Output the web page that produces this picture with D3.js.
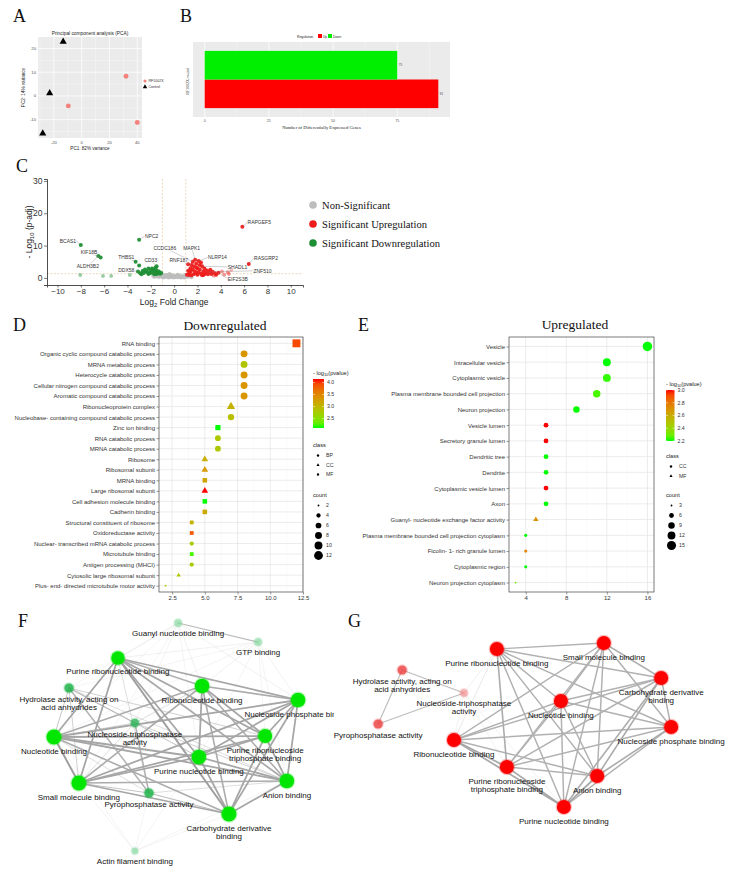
<!DOCTYPE html>
<html>
<head>
<meta charset="utf-8">
<script src="https://cdn.jsdelivr.net/npm/d3@7"></script>
<style>
  body { margin: 0; background: #fff; }
  svg { display: block; }
</style>
</head>
<body>
<svg id="fig" width="734" height="879"></svg>
<script>
/* ---------- A : PCA ---------- */
var pcaGroup = ["RF1002X", "RF1002X", "RF1002X", "Control", "Control", "Control"];
var pcaPC1 = [31.9, -9.6, 40.0, -13.3, -23.0, -28.0];
var pcaPC2 = [8.3, -4.2, -11.2, 22.9, 1.2, -15.8];
var pcaXTicks = [-20, 0, 20, 40];
var pcaYTicks = [-10, 0, 10, 20];

/* ---------- B : DEG counts ---------- */
var degRegulation = ["Up", "Down"];
var degCounts = [91, 75];
var degXTicks = [0, 25, 50, 75];

/* ---------- C : volcano ---------- */
var volNonSig = [[-1.6,0.9],[-1.5,0.5],[-1.4,1.1],[-1.3,0.3],[-1.2,0.7],[-1.1,1.2],[-1.0,0.2],[-0.9,0.6],
  [-0.8,0.9],[-0.7,0.3],[-0.6,0.5],[-0.5,0.1],[-0.4,0.4],[-0.3,0.7],[-0.2,0.2],[-0.1,0.5],[0.0,0.1],
  [0.1,0.3],[0.2,0.6],[0.3,0.2],[0.4,0.4],[0.5,0.8],[0.6,0.3],[0.7,0.5],[0.8,0.2],[0.9,0.9],[1.0,0.4],
  [1.1,0.6],[1.2,0.3],[1.3,0.8],[-0.9,0.1],[-0.6,0.9],[0.3,1.0],[-1.4,0.4],[0.6,0.1],[-0.2,0.9],
  [0.9,0.1],[1.4,0.5],[-1.8,0.6],[-0.4,1.2],[-1.1,0.5],[-0.7,0.8],[0.1,0.7],[0.5,0.2],[1.1,1.0],
  [-0.05,0.3],[0.25,0.8],[-0.35,0.2],[-1.7,0.3],[1.5,0.2]];
var volUp = [[5.85,15.8],[6.4,4.3],[1.1,1.0],[1.2,2.2],[1.3,1.5],[1.4,3.0],[1.5,0.8],[1.5,4.0],[1.6,2.5],
  [1.7,1.2],[1.7,3.5],[1.8,5.6],[1.8,2.0],[1.9,4.4],[2.0,1.0],[2.0,3.0],[2.1,5.2],[2.1,1.8],[2.2,2.6],
  [2.3,4.8],[2.3,1.3],[2.4,3.6],[2.5,2.0],[2.5,0.9],[2.6,2.9],[2.7,1.5],[2.8,2.3],[2.9,1.1],[3.0,1.8],
  [3.1,2.5],[3.2,1.2],[3.3,1.9],[3.5,1.4],[3.6,1.0],[3.8,1.6],[1.2,4.2],[1.6,5.0],[1.9,3.2],[2.2,4.0],
  [2.6,1.1],[1.3,0.9],[1.9,1.4],[2.4,0.8],[1.4,2.0]];
var volUpFaint = [[4.3,1.0],[4.6,1.8],[4.9,2.6],[4.1,2.0],[3.4,0.7],[4.7,1.2]];
var volDown = [[-8.0,10.2],[-6.3,6.3],[-6.5,6.8],[-3.3,5.0],[-3.0,3.8],[-3.0,11.8],[-1.5,3.6],[-1.6,3.2],
  [-3.1,2.0],[-2.6,1.5],[-2.4,2.0],[-2.2,1.2],[-2.0,2.3],[-1.9,1.6],[-1.8,2.6],[-1.7,1.1],[-1.6,1.9],
  [-1.5,2.4],[-1.4,1.4],[-1.3,2.0],[-1.2,1.3],[-2.8,1.1],[-2.5,2.6],[-2.3,1.8],[-2.1,1.4],[-1.9,2.9],
  [-1.7,2.2],[-1.5,1.2],[-1.3,1.7],[-1.1,1.5],[-2.7,2.1],[-2.9,1.4],[-2.2,2.9],[-1.6,1.5]];
var volDownFaint = [[-8.05,0.9],[-6.1,0.6],[-5.4,0.6],[-3.8,0.9]];
var volLabelGene = ["RAPGEF5","BCAS1","KIF18B","ALDH3B2","THBS1","NPC2","CD33","DDX58",
  "CCDC186","MAPK1","RNF187","NLRP14","SHADL1","ZNF510","RASGRP2","EIF2S3B"];
var volLabelPoint = [[5.85,15.8],[-8.0,10.2],[-6.3,6.3],[-6.5,6.8],[-3.3,5.0],[-3.0,11.8],[-1.5,3.6],[-3.1,2.0],
  [1.6,5.0],[1.8,5.6],[1.5,4.0],[2.1,5.2],[2.4,3.6],[3.0,1.8],[6.4,4.3],[3.8,1.6]];
var volLabelAt = [[6.3,17.3],[-8.4,11.4],[-7.3,7.8],[-7.4,3.6],[-4.1,6.3],[-2.5,13.0],[-2.0,5.5],[-4.1,2.4],
  [-0.8,9.3],[1.5,9.3],[0.4,5.5],[2.9,6.4],[4.6,3.4],[6.8,2.2],[6.85,6.2],[4.6,-0.3]];
var volLabelAnchor = ["start","end","middle","middle","middle","start","middle","middle",
  "middle","middle","middle","start","start","start","start","start"];
var volXTicks = [-10, -8, -6, -4, -2, 0, 2, 4, 6, 8, 10];
var volYTicks = [0, 10, 20, 30];
var volLegend = ["Non-Significant", "Significant Upregulation", "Significant Downregulation"];

/* ---------- D : downregulated enrichment ---------- */
var dnTerms = ["RNA binding", "Organic cyclic compound catabolic process", "MRNA metabolic process",
  "Heterocycle catabolic process", "Cellular nitrogen compound catabolic process",
  "Aromatic compound catabolic process", "Ribonucleoprotein complex",
  "Nucleobase- containing compound catabolic process", "Zinc ion binding", "RNA catabolic process",
  "MRNA catabolic process", "Ribosome", "Ribosomal subunit", "MRNA binding", "Large ribosomal subunit",
  "Cell adhesion molecule binding", "Cadherin binding", "Structural constituent of ribosome",
  "Oxidoreductase activity", "Nuclear- transcribed mRNA catabolic process", "Microtubule binding",
  "Antigen processing (MHCI)", "Cytosolic large ribosomal subunit",
  "Plus- end- directed microtubule motor activity"];
var dnCount = [12, 8, 8, 8, 8, 8, 7, 7, 6, 6, 6, 5, 5, 5, 5, 5, 5, 4, 4, 4, 4, 4, 3, 2];
var dnClass = ["MF","BP","BP","BP","BP","BP","CC","BP","MF","BP","BP","CC","CC","MF","CC","MF","MF",
  "MF","MF","BP","MF","BP","CC","MF"];
var dnLogP = [3.95, 3.35, 2.85, 3.35, 3.35, 3.35, 3.05, 2.9, 2.1, 2.8, 2.8, 3.1, 3.3, 3.2, 4.15, 2.1,
  3.15, 3.05, 3.85, 2.75, 2.2, 2.8, 2.85, 2.75];
var dnXTicks = [2.5, 5, 7.5, 10, 12.5];
var dnColorTicks = [2.5, 3.0, 3.5, 4.0];
var dnClasses = ["BP", "CC", "MF"];
var dnCountBreaks = [2, 4, 6, 8, 10, 12];

/* ---------- E : upregulated enrichment ---------- */
var upTerms = ["Vesicle", "Intracellular vesicle", "Cytoplasmic vesicle",
  "Plasma membrane bounded cell projection", "Neuron projection", "Vesicle lumen",
  "Secretory granule lumen", "Dendritic tree", "Dendrite", "Cytoplasmic vesicle lumen", "Axon",
  "Guanyl- nucleotide exchange factor activity", "Plasma membrane bounded cell projection cytoplasm",
  "Ficolin- 1- rich granule lumen", "Cytoplasmic region", "Neuron projection cytoplasm"];
var upCount = [16, 12, 12, 11, 9, 6, 6, 6, 6, 6, 6, 5, 4, 4, 4, 3];
var upClass = ["CC","CC","CC","CC","CC","CC","CC","CC","CC","CC","CC","MF","CC","CC","CC","CC"];
var upLogP = [2.2, 2.2, 2.22, 2.24, 2.2, 3.0, 3.0, 2.2, 2.2, 3.0, 2.2, 2.7, 2.2, 2.75, 2.2, 2.28];
var upXTicks = [4, 8, 12, 16];
var upColorTicks = [2.2, 2.4, 2.6, 2.8, 3.0];
var upClasses = ["CC", "MF"];
var upCountBreaks = [3, 6, 9, 12, 15];

/* ---------- F : network of downregulated MF terms ---------- */
var fIds = ["GNB","GTP","PRB","HYD","RB","NPB","NTP","NB","PRTB","PNB","SMB","PYR","AB","CDB","ACT"];
var fLabels = ["Guanyl nucleotide binding", "GTP binding", "Purine ribonucleotide binding",
  "Hydrolase activity, acting on\nacid anhydrides", "Ribonucleotide binding", "Nucleoside phosphate binding",
  "Nucleoside-triphosphatase\nactivity", "Nucleotide binding", "Purine ribonucleoside\ntriphosphate binding",
  "Purine nucleotide binding", "Small molecule binding", "Pyrophosphatase activity", "Anion binding",
  "Carbohydrate derivative\nbinding", "Actin filament binding"];
var fGenes = [4, 4, 13, 6, 15, 15, 5, 16, 14, 15, 16, 6, 15, 16, 3];
var fSig = [0.1, 0.1, 1, 0.55, 1, 1, 0.45, 1, 1, 1, 1, 0.55, 1, 1, 0.1];
// layout (0-100 units inside the panel box)
var fLayoutX = [49.4, 74.4, 30.6, 15.3, 56.9, 86.9, 35.9, 10.6, 76.6, 55.9, 18.4, 40.3, 83.4, 65.3, 35.9];
var fLayoutY = [1.2, 8.8, 15.2, 27.2, 26.4, 32, 41.2, 46.8, 46.4, 54.8, 65.2, 69.2, 64.4, 77.6, 92.4];
var fEdges = [
  ["PRB","RB",2],["PRB","NPB",2.5],["PRB","NB",2.5],["PRB","PRTB",2.5],["PRB","PNB",2.5],["PRB","SMB",2.5],
  ["PRB","AB",2.4],["PRB","CDB",2.8],["RB","NPB",2.2],["RB","NB",2.2],["RB","PRTB",2.5],["RB","PNB",2.5],
  ["RB","SMB",2.2],["RB","AB",2.2],["RB","CDB",2.2],["NPB","NB",2.5],["NPB","PRTB",2.5],["NPB","PNB",2.5],
  ["NPB","SMB",2.5],["NPB","AB",2.5],["NPB","CDB",2.5],["NB","PRTB",2.5],["NB","PNB",2.5],["NB","SMB",2.8],
  ["NB","AB",2.5],["NB","CDB",2.2],["PRTB","PNB",2.5],["PRTB","SMB",2.5],["PRTB","AB",2.5],["PRTB","CDB",2.5],
  ["PNB","SMB",2.5],["PNB","AB",2.5],["PNB","CDB",2.5],["SMB","AB",2.2],["SMB","CDB",2.5],["AB","CDB",2.5],
  ["HYD","PYR",2],["HYD","NTP",1.5],["NTP","PYR",2],["HYD","NB",1.2],["HYD","SMB",1],["HYD","PNB",1],
  ["HYD","PRTB",1],["HYD","AB",0.8],["NTP","NB",1],["NTP","SMB",0.8],["NTP","PNB",0.8],["NTP","AB",1],
  ["NTP","RB",0.8],["PYR","SMB",1.2],["PYR","CDB",1.5],["PYR","NB",0.8],["PYR","AB",0.8],["PYR","PRB",0.8],
  ["GNB","GTP",1.6],["GNB","PRB",0.4],["GNB","RB",0.4],["GNB","NPB",0.4],["GNB","NB",0.3],["GNB","PNB",0.3],
  ["GNB","SMB",0.3],["GNB","NTP",0.3],["GNB","HYD",0.3],["GTP","PRB",0.4],["GTP","RB",0.4],["GTP","NPB",0.4],
  ["GTP","PRTB",0.3],["GTP","PNB",0.3],["GTP","AB",0.3],["GTP","NB",0.3],["GTP","HYD",0.3],
  ["ACT","SMB",0.3],["ACT","NB",0.3],["ACT","PNB",0.3],["ACT","CDB",0.3],["ACT","PYR",0.3],["ACT","AB",0.3]];

/* ---------- G : network of upregulated MF terms ---------- */
var gIds = ["PRB","SMB","HYD","NTP","PYR","CDB","NB","NPB","RB","PRTB","AB","PNB"];
var gLabels = ["Purine ribonucleotide binding", "Small molecule binding",
  "Hydrolase activity, acting on\nacid anhydrides", "Nucleoside-triphosphatase\nactivity",
  "Pyrophosphatase activity", "Carbohydrate derivative\nbinding", "Nucleotide binding",
  "Nucleoside phosphate binding", "Ribonucleotide binding", "Purine ribonucleoside\ntriphosphate binding",
  "Anion binding", "Purine nucleotide binding"];
var gGenes = [14, 14, 6, 4, 6, 14, 14, 14, 14, 14, 14, 14];
var gSig = [1, 1, 0.55, 0.15, 0.55, 1, 1, 1, 1, 1, 1, 1];
var gLayoutX = [39.7, 68.6, 14.1, 30.8, 7.6, 84.1, 57.0, 86.8, 28.1, 42.4, 66.8, 57.8];
var gLayoutY = [11.6, 9.2, 20, 29.2, 41.6, 23.2, 32.4, 42.8, 48, 58.8, 62.4, 74.8];
var gEdges = [
  ["PRB","SMB",2],["PRB","CDB",2],["PRB","NB",2],["PRB","NPB",2],["PRB","RB",0.6],["PRB","PRTB",2.2],
  ["PRB","AB",2],["PRB","PNB",2],["SMB","CDB",2],["SMB","NB",2],["SMB","RB",2],["SMB","AB",2],
  ["SMB","PNB",2],["SMB","NPB",2],["SMB","PRTB",1.8],["CDB","NB",2],["CDB","NPB",2],["CDB","RB",2],
  ["CDB","PRTB",2],["CDB","AB",2.2],["CDB","PNB",2.2],["NB","NPB",2],["NB","RB",2],["NB","AB",2],
  ["NB","PNB",2],["NB","PRTB",2],["NPB","RB",2],["NPB","PRTB",2],["NPB","AB",2.2],["NPB","PNB",2],
  ["RB","PRTB",2.4],["RB","AB",2],["RB","PNB",2.4],["PRTB","AB",2],["PRTB","PNB",2.4],["AB","PNB",2.4],
  ["HYD","NTP",1.5],["HYD","PYR",1.5],["PYR","NTP",1.5],["NTP","RB",0.4],["NTP","PRTB",0.4],
  ["NTP","PNB",0.4],["NTP","PRB",0.4]];

/* ---------- setup ---------- */
var SANS = "'Liberation Sans', Arial, sans-serif";
var SERIF = "'Liberation Serif', 'Times New Roman', serif";
var svg = d3.select("#fig");
svg.append("rect").attr("width", 734).attr("height", 879).attr("fill", "#fff");

function expand(ext, f) {
  var d = (ext[1] - ext[0]) * f;
  return [ext[0] - d, ext[1] + d];
}
function minorTicks(ticks, domain) {
  var step = ticks[1] - ticks[0], out = [];
  for (var v = ticks[0] - step / 2; v <= domain[1]; v += step) if (v >= domain[0]) out.push(v);
  return out;
}
function letter(txt, x, y) {
  svg.append("text").attr("x", x).attr("y", y).text(txt)
    .attr("font-family", SERIF).attr("font-size", 18).attr("fill", "#111");
}

/* ---------- A ---------- */
function drawPCA() {
  var g = svg.append("g");
  var L = 38, R = 142, T = 37, B = 138;
  var x = d3.scaleLinear().domain(expand(d3.extent(pcaPC1), 0.05)).range([L, R]);
  var y = d3.scaleLinear().domain(expand(d3.extent(pcaPC2), 0.05)).range([B, T]);

  g.append("rect").attr("x", L).attr("y", T).attr("width", R - L).attr("height", B - T).attr("fill", "#ebebeb");
  g.selectAll(".mx").data(minorTicks(pcaXTicks, x.domain())).enter().append("line")
    .attr("x1", x).attr("x2", x).attr("y1", T).attr("y2", B).attr("stroke", "#fff").attr("stroke-width", 0.3);
  g.selectAll(".my").data(minorTicks(pcaYTicks, y.domain())).enter().append("line")
    .attr("y1", y).attr("y2", y).attr("x1", L).attr("x2", R).attr("stroke", "#fff").attr("stroke-width", 0.3);
  g.selectAll(".gx").data(pcaXTicks).enter().append("line")
    .attr("x1", x).attr("x2", x).attr("y1", T).attr("y2", B).attr("stroke", "#fff").attr("stroke-width", 0.7);
  g.selectAll(".gy").data(pcaYTicks).enter().append("line")
    .attr("y1", y).attr("y2", y).attr("x1", L).attr("x2", R).attr("stroke", "#fff").attr("stroke-width", 0.7);

  g.selectAll(".tx").data(pcaXTicks).enter().append("text")
    .attr("x", x).attr("y", B + 6).attr("text-anchor", "middle").text(function(d) { return d; })
    .attr("font-family", SANS).attr("font-size", 4.2).attr("fill", "#555");
  g.selectAll(".ty").data(pcaYTicks).enter().append("text")
    .attr("x", L - 2).attr("y", function(d) { return y(d) + 1.5; }).attr("text-anchor", "end")
    .text(function(d) { return d; }).attr("font-family", SANS).attr("font-size", 4.2).attr("fill", "#555");

  g.append("text").attr("x", (L + R) / 2).attr("y", 35).attr("text-anchor", "middle")
    .text("Principal component analysis (PCA)").attr("font-family", SANS).attr("font-size", 4.8).attr("fill", "#222");
  g.append("text").attr("x", (L + R) / 2).attr("y", 149.5).attr("text-anchor", "middle")
    .text("PC1: 82% variance").attr("font-family", SANS).attr("font-size", 4.6).attr("fill", "#222");
  g.append("text").attr("transform", "translate(25," + ((T + B) / 2) + ") rotate(-90)").attr("text-anchor", "middle")
    .text("PC2: 14% variance").attr("font-family", SANS).attr("font-size", 4.6).attr("fill", "#222");

  var pts = pcaPC1.map(function(v, i) { return { x: v, y: pcaPC2[i], grp: pcaGroup[i] }; });
  g.selectAll(".pt").data(pts).enter().append("path")
    .attr("transform", function(d) { return "translate(" + x(d.x) + "," + y(d.y) + ")"; })
    .attr("d", function(d) {
      return d.grp === "Control" ? d3.symbol(d3.symbolTriangle, 22)() : d3.symbol(d3.symbolCircle, 19)();
    })
    .attr("fill", function(d) { return d.grp === "Control" ? "#000" : "#f2827a"; });

  var lg = g.append("g");
  ["RF1002X", "Control"].forEach(function(k, i) {
    lg.append("path").attr("transform", "translate(145," + (81 + i * 6) + ")")
      .attr("d", k === "Control" ? d3.symbol(d3.symbolTriangle, 9)() : d3.symbol(d3.symbolCircle, 8)())
      .attr("fill", k === "Control" ? "#000" : "#f2827a");
    lg.append("text").attr("x", 148.5).attr("y", 82.3 + i * 6).text(k)
      .attr("font-family", SANS).attr("font-size", 3.6).attr("fill", "#333");
  });
}

/* ---------- B ---------- */
function drawDEG() {
  var g = svg.append("g");
  var L = 193, R = 450, T = 42, B = 117;
  var x = d3.scaleLinear().domain(expand([0, d3.max(degCounts)], 0.05)).range([L, R]);
  var y = d3.scaleBand().domain(["Down", "Up"]).range([T, B]).paddingInner(0).paddingOuter(0.31);
  var fill = { Up: "#ff0000", Down: "#00ee00" };

  g.append("rect").attr("x", L).attr("y", T).attr("width", R - L).attr("height", B - T).attr("fill", "#ebebeb");
  g.selectAll(".mx").data(minorTicks(degXTicks, x.domain())).enter().append("line")
    .attr("x1", x).attr("x2", x).attr("y1", T).attr("y2", B).attr("stroke", "#fff").attr("stroke-width", 0.3);
  g.selectAll(".gx").data(degXTicks).enter().append("line")
    .attr("x1", x).attr("x2", x).attr("y1", T).attr("y2", B).attr("stroke", "#fff").attr("stroke-width", 0.7);

  g.selectAll(".bar").data(degRegulation).enter().append("rect")
    .attr("x", x(0)).attr("y", function(d) { return y(d); })
    .attr("width", function(d, i) { return x(degCounts[i]) - x(0); })
    .attr("height", y.bandwidth()).attr("fill", function(d) { return fill[d]; });
  g.selectAll(".val").data(degRegulation).enter().append("text")
    .attr("x", function(d, i) { return x(degCounts[i]) + 1.5; })
    .attr("y", function(d) { return y(d) + y.bandwidth() / 2 + 1; })
    .text(function(d, i) { return degCounts[i]; })
    .attr("font-family", SANS).attr("font-size", 3).attr("fill", "#444");

  g.selectAll(".tx").data(degXTicks).enter().append("text")
    .attr("x", x).attr("y", B + 4.5).attr("text-anchor", "middle").text(function(d) { return d; })
    .attr("font-family", SANS).attr("font-size", 3.6).attr("fill", "#555");
  g.append("text").attr("x", (L + R) / 2).attr("y", 128.5).attr("text-anchor", "middle")
    .text("Number of Differentially Expressed Genes").attr("font-family", SERIF).attr("font-size", 4.6).attr("fill", "#222");
  g.append("text").attr("transform", "translate(189," + ((T + B) / 2 + 2) + ") rotate(-90)").attr("text-anchor", "middle")
    .text("RF1002X.vs.ctrl").attr("font-family", SERIF).attr("font-size", 4).attr("fill", "#222");

  g.append("text").attr("x", 297).attr("y", 37.5).text("Regulation")
    .attr("font-family", SANS).attr("font-size", 3.4).attr("fill", "#222");
  degRegulation.forEach(function(k, i) {
    g.append("rect").attr("x", 318 + i * 10).attr("y", 34).attr("width", 4).attr("height", 4).attr("fill", fill[k]);
    g.append("text").attr("x", 323 + i * 10).attr("y", 37.5).text(k)
      .attr("font-family", SANS).attr("font-size", 3.2).attr("fill", "#222");
  });
}

/* ---------- C ---------- */
function drawVolcano() {
  var g = svg.append("g");
  var L = 47, R = 303, T = 179, B = 285;
  var x = d3.scaleLinear().domain([-10.9, 11.05]).range([L, R]);
  var y = d3.scaleLinear().domain([-2.2, 30.6]).range([B, T]);

  // thresholds
  [-1, 1].forEach(function(v) {
    g.append("line").attr("x1", x(v)).attr("x2", x(v)).attr("y1", T).attr("y2", B)
      .attr("stroke", "#e0bf94").attr("stroke-width", 0.6).attr("stroke-dasharray", "2,1.5");
  });
  g.append("line").attr("x1", L).attr("x2", R).attr("y1", y(1.3)).attr("y2", y(1.3))
    .attr("stroke", "#e0bf94").attr("stroke-width", 0.6).attr("stroke-dasharray", "2,1.5");

  function dots(data, color, op, r) {
    g.append("g").selectAll("circle").data(data).enter().append("circle")
      .attr("cx", function(d) { return x(d[0]); }).attr("cy", function(d) { return y(d[1]); })
      .attr("r", r).attr("fill", color).attr("fill-opacity", op);
  }
  dots(volNonSig, "#bdbdbd", 0.9, 1.9);
  dots(volDownFaint, "#1f8f35", 0.45, 1.9);
  dots(volUpFaint, "#ee1c1c", 0.45, 1.9);
  dots(volDown, "#1f8f35", 0.95, 2);
  dots(volUp, "#ee1c1c", 0.95, 2);

  // gene labels
  var lab = g.append("g");
  volLabelGene.forEach(function(gene, i) {
    var p = volLabelPoint[i], a = volLabelAt[i];
    lab.append("line").attr("x1", x(p[0])).attr("y1", y(p[1])).attr("x2", x(a[0])).attr("y2", y(a[1]))
      .attr("stroke", "#777").attr("stroke-width", 0.35);
    lab.append("text").attr("x", x(a[0])).attr("y", y(a[1]) + 1.8).attr("text-anchor", volLabelAnchor[i])
      .text(gene).attr("font-family", SANS).attr("font-size", 5).attr("fill", "#333")
      .attr("paint-order", "stroke").attr("stroke", "#fff").attr("stroke-width", 1.2);
  });

  // axes
  var ay = g.append("g").attr("transform", "translate(" + L + ",0)")
    .call(d3.axisLeft(y).tickValues(volYTicks).tickSize(3).tickPadding(1.5));
  var ax = g.append("g").attr("transform", "translate(0," + B + ")")
    .call(d3.axisBottom(x).tickValues(volXTicks).tickSize(2.5).tickPadding(1));
  [ax, ay].forEach(function(a) {
    a.selectAll("text").attr("font-family", SANS).attr("font-size", 8).attr("fill", "#333");
    a.select(".domain").attr("stroke", "#222").attr("stroke-width", 0.8);
    a.selectAll(".tick line").attr("stroke", "#222").attr("stroke-width", 0.6);
  });
  ay.selectAll("text").attr("font-size", 8.5);

  var xt = g.append("text").attr("x", x(0)).attr("y", 305).attr("text-anchor", "middle")
    .attr("font-family", SANS).attr("font-size", 8.5).attr("fill", "#222");
  xt.append("tspan").text("Log");
  xt.append("tspan").text("2").attr("font-size", 6).attr("dy", 2);
  xt.append("tspan").text(" Fold Change").attr("dy", -2);
  var yt = g.append("text").attr("transform", "translate(32,232) rotate(-90)").attr("text-anchor", "middle")
    .attr("font-family", SANS).attr("font-size", 8.5).attr("fill", "#222");
  yt.append("tspan").text("- Log");
  yt.append("tspan").text("10").attr("font-size", 6).attr("dy", 2);
  yt.append("tspan").text(" (p-adj)").attr("dy", -2);

  var lc = ["#bdbdbd", "#ee1c1c", "#1f8f35"];
  volLegend.forEach(function(k, i) {
    g.append("circle").attr("cx", 313).attr("cy", 205 + i * 19).attr("r", 3.8).attr("fill", lc[i]);
    g.append("text").attr("x", 322).attr("y", 208.5 + i * 19).text(k)
      .attr("font-family", SERIF).attr("font-size", 10.6).attr("fill", "#111");
  });
}

/* ---------- D / E ---------- */
function symbolPath(shape, r) {
  if (shape === d3.symbolSquare) return d3.symbol(shape, Math.pow(1.8 * r, 2))();
  if (shape === d3.symbolTriangle) return d3.symbol(shape, 0.95 * Math.PI * r * r)();
  return d3.symbol(shape, Math.PI * r * r)();
}

function drawDotPlot(p) {
  var g = svg.append("g");
  var x = d3.scaleLinear().domain(expand(d3.extent(p.count), 0.05)).range([p.L, p.R]);
  var y = d3.scalePoint().domain(p.terms).range([p.T, p.B]).padding(0.6);
  var color = d3.scaleLinear().domain(d3.extent(p.logp)).range(["#00ff00", "#ff0000"]).interpolate(d3.interpolateLab);
  var size = d3.scaleRadial().domain(d3.extent(p.count)).range(p.sizeRange);

  g.append("rect").attr("x", p.L).attr("y", p.T).attr("width", p.R - p.L).attr("height", p.B - p.T).attr("fill", "#fff");
  g.selectAll(".mx").data(minorTicks(p.xTicks, x.domain())).enter().append("line")
    .attr("x1", x).attr("x2", x).attr("y1", p.T).attr("y2", p.B).attr("stroke", "#f2f2f2").attr("stroke-width", 0.4);
  g.selectAll(".gx").data(p.xTicks).enter().append("line")
    .attr("x1", x).attr("x2", x).attr("y1", p.T).attr("y2", p.B).attr("stroke", "#e4e4e4").attr("stroke-width", 0.7);
  g.selectAll(".gy").data(p.terms).enter().append("line")
    .attr("y1", y).attr("y2", y).attr("x1", p.L).attr("x2", p.R).attr("stroke", "#e4e4e4").attr("stroke-width", 0.7);

  var ax = g.append("g").attr("transform", "translate(0," + p.B + ")")
    .call(d3.axisBottom(x).tickValues(p.xTicks).tickSize(2.5).tickPadding(1.5)
      .tickFormat(p.xFormat));
  var ay = g.append("g").attr("transform", "translate(" + p.L + ",0)")
    .call(d3.axisLeft(y).tickSize(2.5).tickPadding(1.5));
  [ax, ay].forEach(function(a) {
    a.select(".domain").remove();
    a.selectAll("text").attr("font-family", SANS).attr("font-size", 6).attr("fill", "#333");
    a.selectAll(".tick line").attr("stroke", "#333").attr("stroke-width", 0.5);
  });
  g.append("rect").attr("x", p.L).attr("y", p.T).attr("width", p.R - p.L).attr("height", p.B - p.T)
    .attr("fill", "none").attr("stroke", "#444").attr("stroke-width", 0.7);

  g.selectAll(".pt").data(p.terms).enter().append("path")
    .attr("transform", function(d, i) { return "translate(" + x(p.count[i]) + "," + y(d) + ")"; })
    .attr("d", function(d, i) { return symbolPath(p.shapes[p.cls[i]], size(p.count[i])); })
    .attr("fill", function(d, i) { return color(p.logp[i]); });

  g.append("text").attr("x", p.titleX).attr("y", p.titleY).attr("text-anchor", "middle").text(p.title)
    .attr("font-family", SERIF).attr("font-size", 13.5).attr("fill", "#111");

  // colour bar
  var lx = p.legX;
  var lt = g.append("text").attr("x", lx).attr("y", p.legTitleY)
    .attr("font-family", SANS).attr("font-size", 5.6).attr("fill", "#222");
  lt.append("tspan").text("- log");
  lt.append("tspan").text("10").attr("font-size", 4).attr("dy", 1.3);
  lt.append("tspan").text("(pvalue)").attr("dy", -1.3);

  var cb = d3.scaleLinear().domain(color.domain()).range([p.barB, p.barT]);
  var gid = "grad" + p.id;
  var grad = svg.append("defs").append("linearGradient").attr("id", gid)
    .attr("x1", 0).attr("x2", 0).attr("y1", 1).attr("y2", 0);
  d3.range(0, 1.0001, 0.1).forEach(function(t) {
    var v = color.domain()[0] + t * (color.domain()[1] - color.domain()[0]);
    grad.append("stop").attr("offset", t).attr("stop-color", color(v));
  });
  g.append("rect").attr("x", lx).attr("y", p.barT).attr("width", p.barW).attr("height", p.barB - p.barT)
    .attr("fill", "url(#" + gid + ")");
  p.colorTicks.forEach(function(v) {
    g.append("line").attr("x1", lx).attr("x2", lx + 2).attr("y1", cb(v)).attr("y2", cb(v))
      .attr("stroke", "#fff").attr("stroke-width", 0.5);
    g.append("line").attr("x1", lx + p.barW - 2).attr("x2", lx + p.barW).attr("y1", cb(v)).attr("y2", cb(v))
      .attr("stroke", "#fff").attr("stroke-width", 0.5);
    g.append("text").attr("x", lx + p.barW + 3).attr("y", cb(v) + 1.8).text(d3.format(".1f")(v))
      .attr("font-family", SANS).attr("font-size", 5.2).attr("fill", "#333");
  });

  // class legend
  g.append("text").attr("x", lx).attr("y", p.classTitleY).text("class")
    .attr("font-family", SANS).attr("font-size", 5.6).attr("fill", "#222");
  p.classes.forEach(function(c, i) {
    var cy = p.classTitleY + 8.5 + i * 9.5;
    g.append("path").attr("transform", "translate(" + (lx + 5) + "," + cy + ")")
      .attr("d", symbolPath(p.shapes[c], 1.2)).attr("fill", "#000");
    g.append("text").attr("x", lx + 13).attr("y", cy + 1.8).text(c)
      .attr("font-family", SANS).attr("font-size", 5.2).attr("fill", "#333");
  });

  // count legend
  g.append("text").attr("x", lx).attr("y", p.countTitleY).text("count")
    .attr("font-family", SANS).attr("font-size", 5.6).attr("fill", "#222");
  p.countBreaks.forEach(function(c, i) {
    var cy = p.countTitleY + 8.5 + i * 10;
    g.append("circle").attr("cx", lx + 5.5).attr("cy", cy).attr("r", size(c)).attr("fill", "#000");
    g.append("text").attr("x", lx + 13).attr("y", cy + 1.8).text(c)
      .attr("font-family", SANS).attr("font-size", 5.2).attr("fill", "#333");
  });
}

/* ---------- F / G ---------- */
function drawNetwork(n) {
  var g = svg.append("g");
  if (n.clip) {
    svg.append("defs").append("clipPath").attr("id", "clip" + n.id)
      .append("rect").attr("x", n.clip[0]).attr("y", n.clip[1]).attr("width", n.clip[2]).attr("height", n.clip[3]);
    g.attr("clip-path", "url(#clip" + n.id + ")");
  }
  var x = d3.scaleLinear().domain([0, 100]).range([n.box[0], n.box[1]]);
  var y = d3.scaleLinear().domain([0, 100]).range([n.box[2], n.box[3]]);
  var r = d3.scaleSqrt().domain([0, 16]).range([0, 7.5]);
  var col = d3.scaleLinear().domain([0, 0.5, 1]).range(n.colors);
  var ew = d3.scaleLinear().domain([0, 3]).range([0.2, 2.1]);
  var ec = d3.scaleLinear().domain([0, 1, 3]).range(["#eeeeee", "#c8c8c8", "#9a9a9a"]);

  var pos = {};
  n.ids.forEach(function(id, i) { pos[id] = [x(n.lx[i]), y(n.ly[i])]; });

  var edges = n.edges.slice().sort(function(a, b) { return a[2] - b[2]; });
  g.append("g").selectAll("line").data(edges).enter().append("line")
    .attr("x1", function(d) { return pos[d[0]][0]; }).attr("y1", function(d) { return pos[d[0]][1]; })
    .attr("x2", function(d) { return pos[d[1]][0]; }).attr("y2", function(d) { return pos[d[1]][1]; })
    .attr("stroke", function(d) { return ec(d[2]); }).attr("stroke-width", function(d) { return ew(d[2]); })
    .attr("stroke-linecap", "round");

  var nodes = n.ids.map(function(id, i) {
    return { id: id, label: n.labels[i], r: r(n.genes[i]), sig: n.sig[i], x: pos[id][0], y: pos[id][1] };
  });
  var ng = g.append("g").selectAll("g").data(nodes).enter().append("g")
    .attr("transform", function(d) { return "translate(" + d.x + "," + d.y + ")"; });
  ng.append("circle").attr("r", function(d) { return d.r + 1.2; })
    .attr("fill", function(d) { return col(d.sig); }).attr("fill-opacity", 0.25);
  ng.append("circle").attr("r", function(d) { return d.r; })
    .attr("fill", function(d) { return col(d.sig); })
    .attr("fill-opacity", function(d) { return 0.55 + 0.45 * d.sig; });

  var tg = g.append("g").selectAll("text").data(nodes).enter().append("text")
    .attr("x", function(d) { return d.x; }).attr("y", function(d) { return d.y + d.r + 9.5; })
    .attr("text-anchor", "middle").attr("font-family", SANS).attr("font-size", 8).attr("fill", "#111");
  tg.each(function(d) {
    var t = d3.select(this);
    d.label.split("\n").forEach(function(line, i) {
      t.append("tspan").attr("x", d.x).attr("dy", i ? 8 : 0).text(line);
    });
  });
}

/* ---------- draw ---------- */
drawPCA();
drawDEG();
drawVolcano();
drawDotPlot({
  id: "D", terms: dnTerms, count: dnCount, cls: dnClass, logp: dnLogP, xTicks: dnXTicks,
  xFormat: d3.format(".1f"), L: 159, R: 303, T: 337, B: 592, sizeRange: [0.9, 4.4],
  shapes: { BP: d3.symbolCircle, CC: d3.symbolTriangle, MF: d3.symbolSquare },
  title: "Downregulated", titleX: 225, titleY: 330,
  legX: 313, legTitleY: 375, barT: 379, barB: 428, barW: 11, colorTicks: dnColorTicks,
  classTitleY: 447, classes: dnClasses, countTitleY: 497, countBreaks: dnCountBreaks
});
drawDotPlot({
  id: "E", terms: upTerms, count: upCount, cls: upClass, logp: upLogP, xTicks: upXTicks,
  xFormat: d3.format("d"), L: 509, R: 654, T: 337, B: 592, sizeRange: [0.9, 4.7],
  shapes: { CC: d3.symbolCircle, MF: d3.symbolTriangle },
  title: "Upregulated", titleX: 575, titleY: 329,
  legX: 666, legTitleY: 386, barT: 390, barB: 441, barW: 8.5, colorTicks: upColorTicks,
  classTitleY: 458, classes: upClasses, countTitleY: 497, countBreaks: upCountBreaks
});
drawNetwork({
  id: "F", ids: fIds, labels: fLabels, genes: fGenes, sig: fSig, lx: fLayoutX, ly: fLayoutY, edges: fEdges,
  box: [20, 340, 620, 870], colors: ["#9fe3b2", "#1fae4e", "#00e600"], clip: [0, 600, 334, 279]
});
drawNetwork({
  id: "G", ids: gIds, labels: gLabels, genes: gGenes, sig: gSig, lx: gLayoutX, ly: gLayoutY, edges: gEdges,
  box: [350, 720, 620, 870], colors: ["#f6a9a9", "#ec4c4c", "#ff0000"]
});

letter("A", 13, 22);
letter("B", 180, 22);
letter("C", 16, 172);
letter("D", 13, 331);
letter("E", 358, 331);
letter("F", 18, 627);
letter("G", 348, 627);
</script>
</body>
</html>
